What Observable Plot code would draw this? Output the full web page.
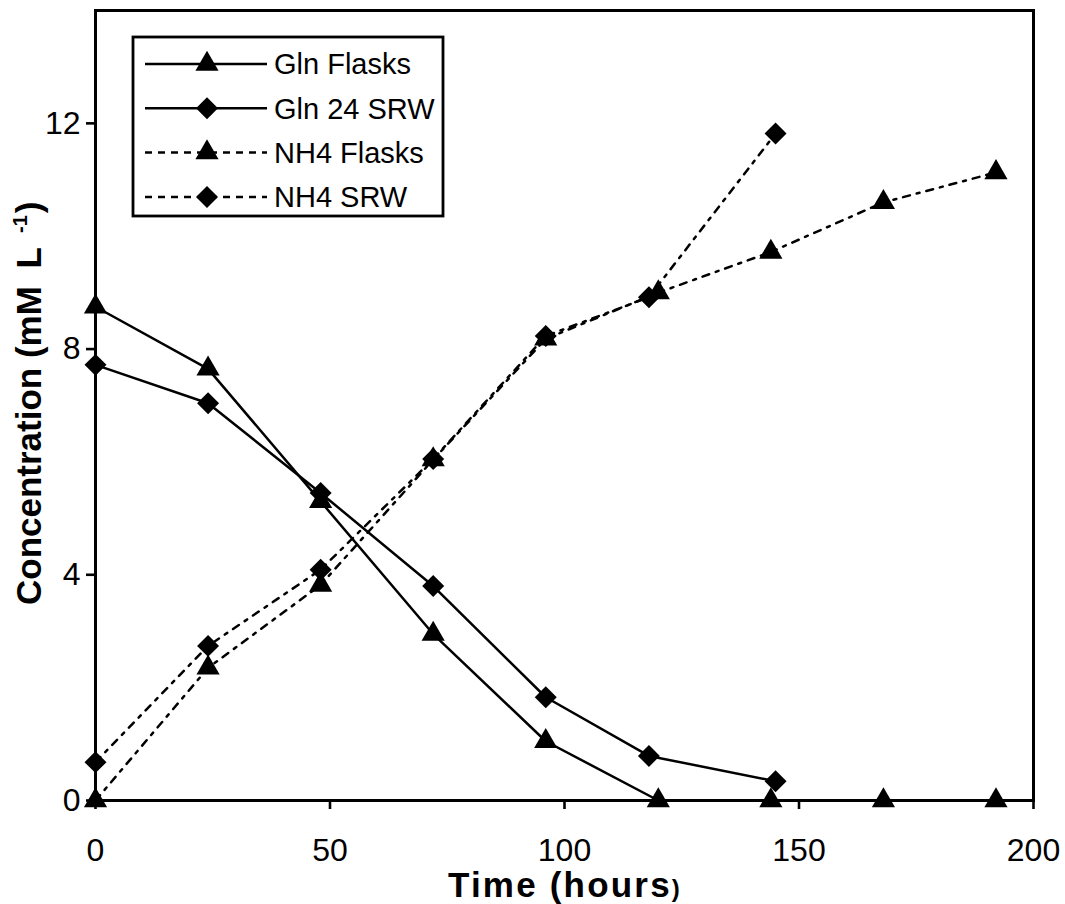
<!DOCTYPE html>
<html>
<head>
<meta charset="utf-8">
<script src="https://cdn.jsdelivr.net/npm/d3@7"></script>
<script src="https://cdn.jsdelivr.net/npm/@observablehq/plot@0.6"></script>
<style>
  body { margin: 0; background: #fff; }
  #chart svg { font-family: "Liberation Sans", Arial, sans-serif; }
</style>
</head>
<body>
<div id="chart"></div>
<script>
// Sampling times (hours)
const flaskTime = [0, 24, 48, 72, 96, 120, 144, 168, 192];
const srwTime = [0, 24, 48, 72, 96, 118, 145];

// Concentrations (mM L-1)
const glnFlasks = [8.75, 7.65, 5.3, 2.95, 1.05, 0, 0, 0, 0];
const glnSRW = [7.72, 7.04, 5.45, 3.8, 1.83, 0.79, 0.34];
const nh4Flasks = [0, 2.35, 3.82, 6.04, 8.18, 9.0, 9.72, 10.6, 11.13];
const nh4SRW = [0.68, 2.74, 4.09, 6.05, 8.23, 8.92, 11.82];

const seriesNames = ["Gln Flasks", "Gln 24 SRW", "NH4 Flasks", "NH4 SRW"];
const xTicks = [0, 50, 100, 150, 200];
const yTicks = [0, 4, 8, 12];

const dotted = "7,7,3,7";
const series = [
  { name: seriesNames[0], time: flaskTime, values: glnFlasks, symbol: "triangle", dash: null },
  { name: seriesNames[1], time: srwTime, values: glnSRW, symbol: "diamond2", dash: null },
  { name: seriesNames[2], time: flaskTime, values: nh4Flasks, symbol: "triangle", dash: dotted },
  { name: seriesNames[3], time: srwTime, values: nh4SRW, symbol: "diamond2", dash: dotted }
];
const markerR = { triangle: 8.6, diamond2: 9.9 };
const rowsOf = s => s.values.map((v, i) => ({ series: s.name, time: s.time[i], value: v }));

const plot = Plot.plot({
  width: 1065,
  height: 904,
  marginLeft: 95,
  marginRight: 32,
  marginTop: 10,
  marginBottom: 104,
  style: { fontFamily: "Liberation Sans, Arial, sans-serif", fontSize: "32px", color: "#000", background: "#fff", overflow: "visible" },
  x: { domain: [0, 200] },
  y: { domain: [0, 14] },
  marks: [
    Plot.axisX({ ticks: xTicks, tickSize: 9, tickPadding: 29, strokeWidth: 2.6, label: null, fontSize: 32 }),
    Plot.axisY({ ticks: yTicks, tickSize: 9, tickPadding: 6, strokeWidth: 2.6, label: null, fontSize: 32 }),
    Plot.frame({ stroke: "#000", strokeWidth: 3 }),
    ...series.map(s => Plot.line(rowsOf(s), {
      x: "time", y: "value", stroke: "#000", strokeWidth: 2.5,
      strokeDasharray: s.dash ?? undefined
    })),
    ...series.map(s => Plot.dot(rowsOf(s), {
      x: "time", y: "value", symbol: s.symbol, r: markerR[s.symbol], fill: "#000", stroke: "none"
    }))
  ]
});

const svg = d3.select(plot);

// Axis titles
const yTitle = svg.append("text")
  .attr("transform", "translate(41,605) rotate(-90)")
  .attr("text-anchor", "start")
  .attr("font-weight", "bold")
  .attr("font-size", 35)
  .attr("fill", "#000");
yTitle.append("tspan").text("Concentration (mM");
yTitle.append("tspan").attr("dx", 8).text(" L");
yTitle.append("tspan").attr("dx", 14).attr("font-size", 20).attr("dy", -14).text("-1");
yTitle.append("tspan").attr("dx", 2).attr("dy", 14).text(")");

const xTitle = svg.append("text")
  .attr("x", 565)
  .attr("y", 897)
  .attr("text-anchor", "middle")
  .attr("font-weight", "bold")
  .attr("font-size", 35)
  .attr("letter-spacing", 2.2)
  .attr("fill", "#000");
xTitle.append("tspan").text("Time (hours");
xTitle.append("tspan").attr("font-size", 24).text(")");

// Legend box
const legend = svg.append("g").attr("transform", "translate(133,37)");
legend.append("rect")
  .attr("width", 310).attr("height", 179)
  .attr("fill", "#fff").attr("stroke", "#000").attr("stroke-width", 2.8);
const markerPath = {
  triangle: d3.symbol(d3.symbolTriangle, Math.PI * markerR.triangle ** 2)(),
  diamond2: "M0,-11L11,0L0,11L-11,0Z"
};
series.forEach((s, i) => {
  const row = legend.append("g").attr("transform", `translate(0,${27 + i * 44.3})`);
  row.append("line")
    .attr("x1", 12).attr("x2", 134).attr("y1", 0).attr("y2", 0)
    .attr("stroke", "#000").attr("stroke-width", 2.5)
    .attr("stroke-dasharray", s.dash ? "7,6" : null);
  row.append("path")
    .attr("transform", "translate(74,0)")
    .attr("d", markerPath[s.symbol])
    .attr("fill", "#000");
  row.append("text")
    .attr("x", 141).attr("y", 0).attr("dy", "0.36em")
    .attr("text-anchor", "start")
    .attr("font-size", 29).attr("fill", "#000")
    .text(s.name);
});

document.getElementById("chart").appendChild(plot);
</script>
</body>
</html>
